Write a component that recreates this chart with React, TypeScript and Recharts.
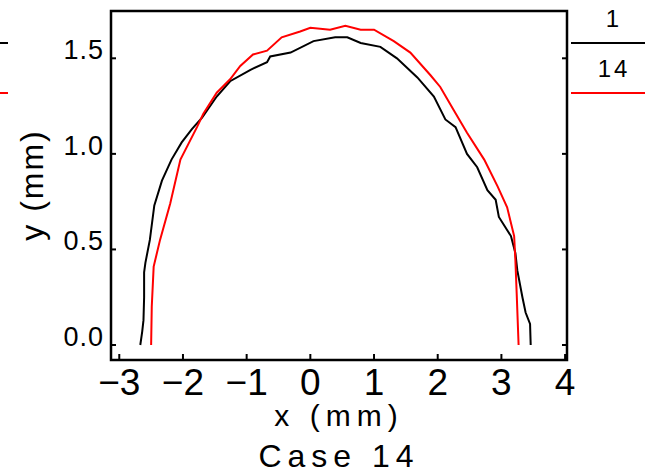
import { LineChart, Line, XAxis, YAxis, Legend, Label, ReferenceArea } from "recharts";

const xTicks = [-3, -2, -1, 0, 1, 2, 3, 4];
const yTicks = [0, 0.5, 1.0, 1.5];

// case 1 (black) profile
const case1X = [
  -2.67, -2.64, -2.62, -2.61, -2.61, -2.59, -2.52, -2.45, -2.33, -2.18, -2.02, -1.86, -1.7, -1.47,
  -1.26, -0.94, -0.68, -0.63, -0.31, 0.05, 0.39, 0.58, 0.79, 1.1, 1.36, 1.68, 1.94, 2.12, 2.28,
  2.46, 2.62, 2.78, 2.91, 2.96, 3.15, 3.22, 3.25, 3.33, 3.38, 3.45, 3.46,
];
const case1Y = [
  0.0, 0.07, 0.13, 0.25, 0.38, 0.43, 0.55, 0.73, 0.86, 0.97, 1.06, 1.13, 1.19, 1.3, 1.38, 1.44,
  1.48, 1.51, 1.53, 1.59, 1.61, 1.61, 1.58, 1.56, 1.5, 1.4, 1.3, 1.18, 1.14, 1.0, 0.93, 0.81,
  0.76, 0.67, 0.57, 0.48, 0.39, 0.25, 0.17, 0.11, 0.0,
];

// case 14 (red) profile
const case14X = [
  -2.5, -2.49, -2.46, -2.36, -2.2, -2.04, -1.78, -1.68, -1.47, -1.26, -1.1, -0.9, -0.68, -0.45,
  -0.16, 0.0, 0.31, 0.55, 0.79, 1.0, 1.31, 1.57, 1.89, 2.04, 2.25, 2.46, 2.73, 2.94, 3.09, 3.2,
  3.22, 3.24, 3.27,
];
const case14Y = [
  0.0, 0.2, 0.41, 0.55, 0.74, 0.97, 1.14, 1.21, 1.32, 1.39, 1.46, 1.52, 1.54, 1.61, 1.64, 1.66,
  1.65, 1.67, 1.65, 1.65, 1.59, 1.53, 1.41, 1.35, 1.23, 1.11, 0.97, 0.83, 0.72, 0.57, 0.44, 0.27,
  0.0,
];

const toPoints = (xs: number[], ys: number[]) => xs.map((x, i) => ({ x, y: ys[i] }));

const FONT = "'Liberation Sans', Arial, sans-serif";
const xDomain = [-3.13, 4.03];
const yDomain = [-0.0785, 1.7475];
const black = { stroke: "#000", strokeWidth: 2 };
const TICK = 6;

const fmtX = (v: number) => (v < 0 ? "\u2212" + Math.abs(v) : String(v));

// each tick draws its own inward mark plus label; x/y are on the axis line
const BottomTick = ({ x, y, payload }: any) => (
  <g>
    <path d={`M${x},${y}V${y - TICK}`} stroke="#000" strokeWidth={2} fill="none" />
    <text x={x} y={y + 35} textAnchor="middle" fontSize={37} fontFamily={FONT} fill="#000">
      {fmtX(payload.value)}
    </text>
  </g>
);

const TopTick = ({ x, y }: any) => (
  <path d={`M${x},${y}V${y + TICK}`} stroke="#000" strokeWidth={2} fill="none" />
);

const LeftTick = ({ x, y, payload }: any) => (
  <g>
    <path d={`M${x},${y}H${x + TICK - 1}`} stroke="#000" strokeWidth={2} fill="none" />
    <text x={x - 7} y={y + 1} textAnchor="end" fontSize={27} letterSpacing={1} fontFamily={FONT} fill="#000">
      {Number(payload.value).toFixed(1)}
    </text>
  </g>
);

const RightTick = ({ x, y }: any) => (
  <path d={`M${x},${y}H${x - TICK + 1}`} stroke="#000" strokeWidth={2} fill="none" />
);

const SideLegend = ({ payload }: any) => (
  <svg width={645} height={473} style={{ position: "absolute", left: 0, top: 0 }}>
    {(payload || []).map((p: any, i: number) => {
      const ly = 43 + i * 50;
      return (
        <g key={i}>
          <text x={614} y={ly - 16} textAnchor="middle" fontSize={24} letterSpacing={3} fontFamily={FONT} fill="#000">
            {p.value}
          </text>
          <line x1={571} x2={645} y1={ly} y2={ly} stroke={p.color} strokeWidth={2} />
          <line x1={0} x2={8} y1={ly} y2={ly} stroke={p.color} strokeWidth={2} />
        </g>
      );
    })}
  </svg>
);

export default function App() {
  return (
    <div style={{ position: "absolute", left: 0, top: 0, width: 645, height: 473, background: "#fff" }}>
      <LineChart width={645} height={473} margin={{ top: 10, right: 77, bottom: 53, left: 11 }}>
        <XAxis
          type="number"
          dataKey="x"
          domain={xDomain}
          ticks={xTicks}
          interval={0}
          allowDataOverflow
          height={60}
          tickSize={0}
          tickMargin={0}
          tickLine={false}
          axisLine={black}
          tick={(p: any) => <BottomTick {...p} />}
        >
          <Label
            content={({ viewBox }: any) => {
              const cx = viewBox.x + viewBox.width / 2;
              return (
                <g>
                  <text x={cx} y={426} textAnchor="middle" fontSize={30} letterSpacing={6} fontFamily={FONT} fill="#000">
                    x (mm)
                  </text>
                  <text x={cx} y={467} textAnchor="middle" fontSize={32} letterSpacing={6} fontFamily={FONT} fill="#000">
                    Case 14
                  </text>
                </g>
              );
            }}
          />
        </XAxis>
        <XAxis
          xAxisId="top"
          orientation="top"
          type="number"
          domain={xDomain}
          ticks={xTicks}
          interval={0}
          allowDataOverflow
          height={1}
          tickSize={0}
          tickMargin={0}
          tickLine={false}
          axisLine={black}
          tick={(p: any) => <TopTick {...p} />}
        />
        <YAxis
          type="number"
          domain={yDomain}
          ticks={yTicks}
          interval={0}
          allowDataOverflow
          width={100}
          tickSize={0}
          tickMargin={0}
          tickLine={false}
          axisLine={black}
          tick={(p: any) => <LeftTick {...p} />}
        >
          <Label
            content={() => (
              <text
                transform="translate(43,185) rotate(-90)"
                textAnchor="middle"
                fontSize={32}
                letterSpacing={2}
                fontFamily={FONT}
                fill="#000"
              >
                y (mm)
              </text>
            )}
          />
        </YAxis>
        <YAxis
          yAxisId="right"
          orientation="right"
          type="number"
          domain={yDomain}
          ticks={yTicks}
          interval={0}
          allowDataOverflow
          width={1}
          tickSize={0}
          tickMargin={0}
          tickLine={false}
          axisLine={black}
          tick={(p: any) => <RightTick {...p} />}
        />
        {/* plot frame */}
        <ReferenceArea
          x1={xDomain[0]}
          x2={xDomain[1]}
          y1={yDomain[0]}
          y2={yDomain[1]}
          fill="none"
          fillOpacity={0}
          stroke="#000"
          strokeWidth={2.5}
          strokeOpacity={1}
        />
        <Legend
          layout="horizontal"
          verticalAlign="middle"
          align="center"
          content={<SideLegend />}
          wrapperStyle={{ position: "absolute", left: 0, top: 0, width: 645, height: 473, pointerEvents: "none" }}
        />
        <Line
          name="1"
          data={toPoints(case1X, case1Y)}
          dataKey="y"
          type="linear"
          stroke="#000000"
          strokeWidth={2}
          dot={false}
          isAnimationActive={false}
        />
        <Line
          name="14"
          data={toPoints(case14X, case14Y)}
          dataKey="y"
          type="linear"
          stroke="#ff0000"
          strokeWidth={2}
          dot={false}
          isAnimationActive={false}
        />
      </LineChart>
    </div>
  );
}
